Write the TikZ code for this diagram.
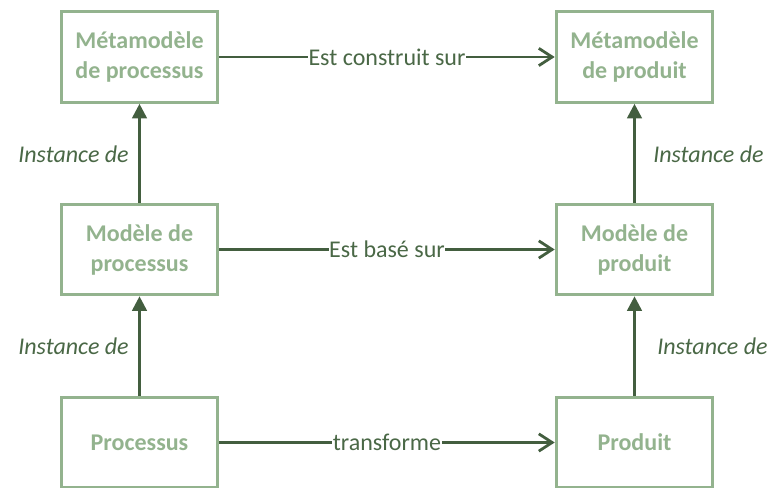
\documentclass[tikz,border=0pt]{standalone}
\usepackage{fontspec}
\setmainfont{Carlito}
\usepackage{xcolor}
\usepackage{tikz}
\usetikzlibrary{arrows.meta}
\definecolor{boxgreen}{HTML}{93B38E}
\definecolor{dark}{HTML}{435E3F}
\definecolor{lbltext}{HTML}{4A6846}
\tikzset{
  box/.style={draw=boxgreen, line width=2.2pt, minimum width=117.5pt, minimum height=68pt,
    align=center, text=boxgreen, font=\fontsize{18}{22.5}\selectfont\bfseries, inner sep=2pt},
  varrow/.style={draw=dark, line width=2.1pt, -{Triangle[length=11pt,width=11pt]}},
  harrow/.style={draw=dark, line width=2.1pt, -{Straight Barb[length=10pt,width=13pt,line width=2.1pt]}},
  hlbl/.style={fill=white, text=lbltext, font=\fontsize{18}{22}\selectfont, inner sep=0.5pt},
  ilbl/.style={text=lbltext, font=\fontsize{18}{22}\selectfont\itshape, inner sep=0pt}
}
\begin{document}
\begin{tikzpicture}[x=0.75pt,y=-0.75pt]
  \useasboundingbox (0,0) rectangle (771,488);

  \node[box] (metaproc) at (139.5,57) {Métamodèle\\de processus};
  \node[box] (metaprod) at (634.5,57) {Métamodèle\\de produit};
  \node[box] (modproc) at (139.5,249.5) {Modèle de\\processus};
  \node[box] (modprod) at (634.5,249.5) {Modèle de\\produit};
  \node[box] (proc) at (139.5,442.5) {Processus};
  \node[box] (prod) at (634.5,442.5) {Produit};

  \draw[harrow] (metaproc) -- node[hlbl] {Est construit sur} (metaprod);
  \draw[harrow] (modproc) -- node[hlbl] {Est basé sur} (modprod);
  \draw[harrow] (proc) -- node[hlbl] {transforme} (prod);

  \draw[varrow] (modproc) -- (metaproc);
  \draw[varrow] (proc) -- (modproc);
  \draw[varrow] (modprod) -- (metaprod);
  \draw[varrow] (prod) -- (modprod);

  \node[ilbl, anchor=east] (inst1) at (129,154) {Instance de};
  \node[ilbl, anchor=east] (inst2) at (129,346) {Instance de};
  \node[ilbl, anchor=west] (inst3) at (653,154) {Instance de};
  \node[ilbl, anchor=west] (inst4) at (657,346) {Instance de};
\end{tikzpicture}
\end{document}
